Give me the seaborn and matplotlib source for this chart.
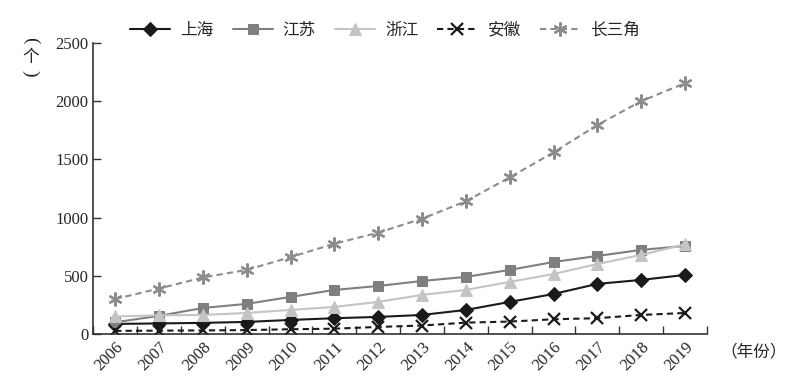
import matplotlib
matplotlib.use("Agg")
import matplotlib.pyplot as plt
import seaborn as sns
import pandas as pd
from matplotlib.ticker import FixedLocator

years = list(range(2006, 2020))
shanghai = [86, 90, 95, 103, 120, 135, 146, 163, 206, 275, 343, 430, 464, 507]
jiangsu = [100, 155, 223, 258, 318, 378, 412, 455, 490, 550, 618, 670, 722, 756]
zhejiang = [150, 160, 163, 180, 206, 232, 275, 335, 378, 447, 515, 601, 679, 770]
anhui = [26, 28, 30, 33, 40, 45, 60, 72, 97, 106, 126, 135, 163, 180]
yrd = [300, 390, 485, 550, 660, 775, 870, 990, 1140, 1345, 1560, 1795, 2000, 2155]

series = {
    "上海": shanghai,
    "江苏": jiangsu,
    "浙江": zhejiang,
    "安徽": anhui,
    "长三角": yrd,
}
styles = {
    "上海": dict(color="#1a1a1a", marker="D", dashes=(None, None), markersize=7),
    "江苏": dict(color="#7f7f7f", marker="s", dashes=(None, None), markersize=7),
    "浙江": dict(color="#c4c4c4", marker="^", dashes=(None, None), markersize=8),
    "安徽": dict(color="#1a1a1a", marker="x", dashes=(3, 2), markersize=8, markeredgewidth=1.6),
    "长三角": dict(color="#8c8c8c", marker=(6, 2, 0), dashes=(3, 2), markersize=10, markeredgewidth=1.6),
}

sns.set_style("white")
plt.rcParams["font.family"] = ["Liberation Serif", "Noto Sans CJK SC"]

fig = plt.figure(figsize=(7.97, 3.91), dpi=100)
ax = fig.add_axes([0.117, 0.146, 0.770, 0.744])

for name, vals in series.items():
    st = dict(styles[name])
    dashes = st.pop("dashes")
    df = pd.DataFrame({"year": years, "value": vals})
    sns.lineplot(data=df, x="year", y="value", ax=ax, label=name,
                 linewidth=1.5, markeredgecolor=st["color"], **st)
    line = ax.get_lines()[-1]
    if dashes[0] is not None:
        line.set_linestyle((0, dashes))

ax.set_xlim(2005.5, 2019.5)
ax.set_ylim(0, 2500)
ax.set_yticks([0, 500, 1000, 1500, 2000, 2500])
ax.set_xticks(years)
ax.set_xticklabels([str(y) for y in years], rotation=45, fontsize=12)
ax.xaxis.set_minor_locator(FixedLocator([y + 0.5 for y in range(2005, 2020)]))
ax.tick_params(axis="x", which="major", length=0, pad=4)
ax.tick_params(axis="x", which="minor", direction="in", length=6, width=1, bottom=True, color="#333333")
ax.tick_params(axis="y", direction="in", length=6, width=1, left=True, labelsize=12, color="#333333")
for lbl in ax.get_xticklabels():
    lbl.set_ha("right")
    lbl.set_rotation_mode("anchor")

for side in ["top", "right"]:
    ax.spines[side].set_visible(False)
for side in ["left", "bottom"]:
    ax.spines[side].set_color("#333333")
    ax.spines[side].set_linewidth(1.2)

ax.set_xlabel("")
ax.set_ylabel("")
# vertical unit label: brackets turned on their side around the character
cjk = ["Noto Sans CJK SC"]
serif = ["Liberation Serif"]
fig.text(0.038, 0.898, "(", fontsize=14, ha="center", va="center", rotation=-90, family=serif)
fig.text(0.038, 0.854, "个", fontsize=12, ha="center", va="center", family=cjk)
fig.text(0.038, 0.812, ")", fontsize=14, ha="center", va="center", rotation=-90, family=serif)
fig.text(0.945, 0.10, "（年份）", fontsize=12, ha="center", va="center", family=cjk)

ax.legend(loc="center", bbox_to_anchor=(0.483, 0.923), bbox_transform=fig.transFigure,
          ncol=5, frameon=False, handlelength=2.4, columnspacing=1.15,
          handletextpad=0.6, prop={"family": cjk, "size": 12})

fig.savefig("out.png", dpi=100)
